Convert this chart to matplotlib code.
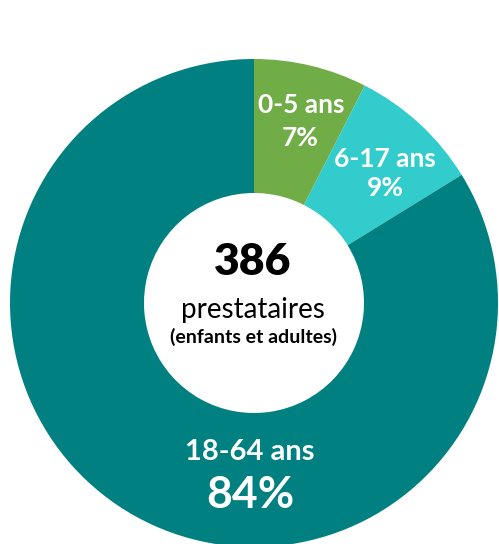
import matplotlib
matplotlib.use('Agg')
import matplotlib.pyplot as plt

# data
groups = ['0-5 ans', '6-17 ans', '18-64 ans']
shares = [7.5, 8.7, 83.8]          # wedge sizes as drawn
labels_pct = ['7%', '9%', '84%']   # printed labels
colors = ['#70AD47', '#33CCCC', '#008080']
total = 386

plt.rcParams['font.family'] = ['Lato', 'DejaVu Sans']

W, H = 499, 544
fig = plt.figure(figsize=(W / 100, H / 100), dpi=100)
ax = fig.add_axes([0, 0, 1, 1])

ax.pie(shares, colors=colors, startangle=90, counterclock=False,
       radius=1.0, wedgeprops=dict(width=1 - 110 / 244, linewidth=0))

# pie centre in pixels (from top-left) and radius
cx, cy, R = 254, 303, 244
ax.set_xlim(-cx / R, (W - cx) / R)
ax.set_ylim(-(H - cy) / R, cy / R)
ax.axis('off')

def px(x, y):
    return (x - cx) / R, (cy - y) / R

white = dict(ha='center', va='center', color='white', fontweight='bold')
ax.text(*px(301, 105), groups[0], fontsize=19, **white)
ax.text(*px(300, 138), labels_pct[0], fontsize=19, **white)
ax.text(*px(385, 159), groups[1], fontsize=19, **white)
ax.text(*px(385, 188), labels_pct[1], fontsize=19, **white)
ax.text(*px(250, 452), groups[2], fontsize=21, **white)
ax.text(*px(250, 495), labels_pct[2], fontsize=32, **white)

ax.text(*px(253, 262), str(total), ha='center', va='center', color='black',
        fontsize=32, fontweight='heavy')
ax.text(*px(253, 310), 'prestataires', ha='center', va='center', color='black',
        fontsize=20, fontweight='normal')
ax.text(*px(253, 337), '(enfants et adultes)', ha='center', va='center',
        color='black', fontsize=14, fontweight='bold')

fig.savefig('out.png', dpi=100)
